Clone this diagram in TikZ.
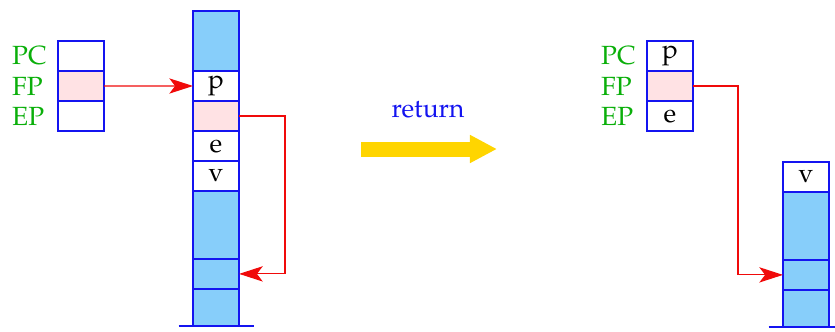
\documentclass[tikz,border=0pt]{standalone}
\usepackage[T1]{fontenc}
\usepackage{mathpazo}
\usetikzlibrary{positioning,arrows.meta}
\definecolor{vblue}{RGB}{20,20,240}
\definecolor{vsky}{RGB}{135,206,250}
\definecolor{vpink}{RGB}{255,226,228}
\definecolor{vred}{RGB}{240,10,10}
\definecolor{vgreen}{RGB}{10,175,10}
\definecolor{vgold}{RGB}{255,213,0}

\begin{document}
\begin{tikzpicture}[x=0.38pt,y=-0.38pt,
    cell/.style={draw=vblue,line width=0.6pt,minimum width=17.5pt,minimum height=11.4pt,inner sep=0pt,outer sep=0pt},
    blk/.style={cell,fill=vsky},
    reg/.style={text=vgreen,text width=13pt,align=left,inner sep=0pt,left=4.2pt of #1},
    ptr/.style={draw=vred,line width=0.45pt,-{Stealth[length=9pt,width=5.8pt,inset=2.2pt]}},
    floor/.style={draw=vblue,line width=0.6pt}]
    \useasboundingbox (0,0) rectangle (835,332);
    \node[cell,anchor=north west] (pc) at (58,41) {};
    \node[cell,fill=vpink,below=0pt of pc] (fp) {};
    \node[cell,below=0pt of fp] (ep) {};
    \node[reg=pc] (lpc) {PC};
    \node[reg=fp] (lfp) {FP};
    \node[reg=ep] (lep) {EP};
    \node[blk,minimum height=22.8pt,anchor=north west] (s0) at (193,11) {};
    \node[cell,below=0pt of s0] (s1) {p};
    \node[cell,fill=vpink,below=0pt of s1] (s2) {};
    \node[cell,below=0pt of s2] (s3) {e};
    \node[cell,below=0pt of s3] (s4) {v};
    \node[blk,minimum height=25.8pt,below=0pt of s4] (s5) {};
    \node[blk,below=0pt of s5] (s6) {};
    \node[blk,minimum height=14pt,below=0pt of s6] (s7) {};
    \draw[floor] ([xshift=-5.5pt]s7.south west) -- ([xshift=5.5pt]s7.south east);
    \draw[ptr] (fp.east) -- (s1.west);
    \draw[ptr] (s2.east) -- ++(46,0) |- (s6.east);
    \node[text=vblue] (ret) at (428,110) {return};
    \coordinate (ya) at (361,149);
    \coordinate (yb) at (497,149);
    \draw[vgold,line width=5.7pt,-{Triangle[length=10.3pt,width=10pt]}] (ya) -- (yb);
    \node[cell,anchor=north west] (pc2) at (647,41) {p};
    \node[cell,fill=vpink,below=0pt of pc2] (fp2) {};
    \node[cell,below=0pt of fp2] (ep2) {e};
    \node[reg=pc2] (lpc2) {PC};
    \node[reg=fp2] (lfp2) {FP};
    \node[reg=ep2] (lep2) {EP};
    \node[cell,anchor=north west] (t0) at (783,162) {v};
    \node[blk,minimum height=25.8pt,below=0pt of t0] (t1) {};
    \node[blk,below=0pt of t1] (t2) {};
    \node[blk,minimum height=14pt,below=0pt of t2] (t3) {};
    \draw[floor] ([xshift=-5.5pt]t3.south west) -- ([xshift=5.5pt]t3.south east);
    \draw[ptr] (fp2.east) -- ++(45,0) |- (t2.west);
\end{tikzpicture}
\end{document}
